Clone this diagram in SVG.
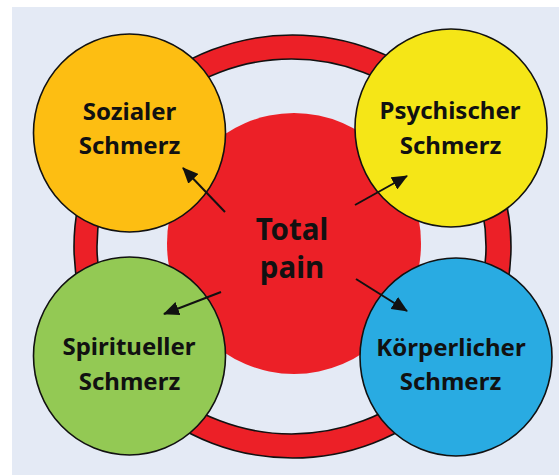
<svg xmlns="http://www.w3.org/2000/svg" width="559" height="475" viewBox="0 0 559 475">
<defs>
<style>
.bg{fill:#E4EAF5}
.node{stroke:#111;stroke-width:1.6}
.lbl{font-family:"Noto Sans","Open Sans","Liberation Sans",sans-serif;font-weight:bold;font-size:24px;fill:#111;text-anchor:middle}
.big{font-size:29.5px}
.conn{stroke:#111;stroke-width:2;fill:none;marker-end:url(#ah)}
</style>
<marker id="ah" viewBox="0 0 16 14" refX="15" refY="7" markerWidth="16" markerHeight="14" markerUnits="userSpaceOnUse" orient="auto">
<path d="M0,0 L16,7 L0,14 z" fill="#111"/>
</marker>
</defs>
<rect x="0" y="0" width="559" height="475" fill="#FFFFFF"/>
<rect class="bg" x="12" y="7" width="547" height="468"/>
<g id="ring">
<ellipse cx="292.5" cy="246.5" rx="218.5" ry="211.5" fill="#EC2027" stroke="#111" stroke-width="1.6"/>
<ellipse class="bg" cx="291.5" cy="246.5" rx="194.5" ry="187.5" stroke="#111" stroke-width="1.6"/>
</g>
<g id="total">
<ellipse cx="294" cy="243.5" rx="127" ry="130.5" fill="#EC2027"/>
</g>
<g id="sozial">
<ellipse class="node" cx="129.5" cy="133" rx="96" ry="99" fill="#FDBE12"/>
</g>
<g id="psych">
<ellipse class="node" cx="451" cy="128" rx="96" ry="99" fill="#F5E617"/>
</g>
<g id="spirit">
<ellipse class="node" cx="129.5" cy="356" rx="96" ry="99" fill="#93C954"/>
</g>
<g id="koerper">
<ellipse class="node" cx="456" cy="357" rx="96" ry="99" fill="#29ABE2"/>
</g>
<g id="connectors">
<line class="conn" x1="225" y1="212" x2="183" y2="168"/>
<line class="conn" x1="355" y1="205" x2="407" y2="176"/>
<line class="conn" x1="221" y1="292" x2="164" y2="314"/>
<line class="conn" x1="356" y1="279" x2="407" y2="311"/>
</g>
<g id="labels">
<text class="lbl" x="129.5" y="120">Sozialer</text>
<text class="lbl" x="129.5" y="154">Schmerz</text>
<text class="lbl" x="450" y="119">Psychischer</text>
<text class="lbl" x="450.5" y="154">Schmerz</text>
<text class="lbl" x="129" y="355">Spiritueller</text>
<text class="lbl" x="129.5" y="390">Schmerz</text>
<text class="lbl" x="451" y="356">Körperlicher</text>
<text class="lbl" x="450.5" y="390">Schmerz</text>
<text class="lbl big" x="292" y="240">Total</text>
<text class="lbl big" x="292" y="278">pain</text>
</g>
</svg>
